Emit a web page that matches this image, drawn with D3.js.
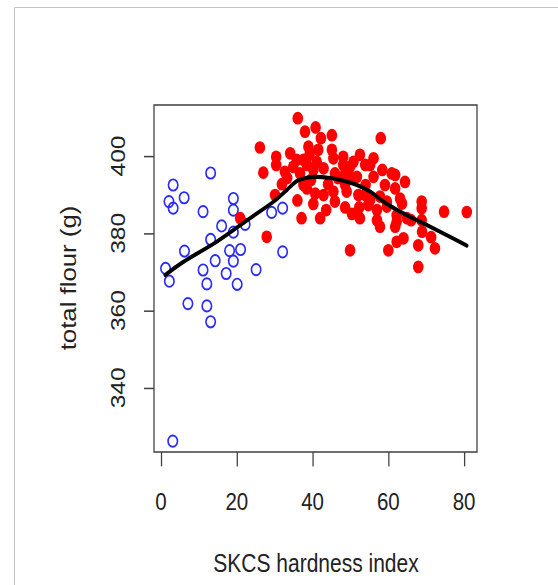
<!DOCTYPE html>
<html>
<head>
<meta charset="utf-8">
<script src="https://cdn.jsdelivr.net/npm/d3@7/dist/d3.min.js"></script>
<style>
  body { margin: 0; background: #fff; }
  text { font-family: "Liberation Sans", Arial, Helvetica, sans-serif; fill: #222; }
</style>
</head>
<body>
<svg id="chart"></svg>
<script>
const width = 558;
const height = 585;
// the source picture was stretched vertically a bit
const stretch = 1.2;

const xTicks = [0, 20, 40, 60, 80];
const yTicks = [340, 360, 380, 400];
const xLabel = "SKCS hardness index";
const yLabel = "total flour (g)";

// soft wheat (open blue circles)
const softX = [13.1, 3.2, 6.1, 2.1, 3.2, 11.1, 19.1, 19.1, 16.0, 22.2, 19.1, 13.1, 29.2, 32.1, 6.2, 18.1,
  21.0, 32.1, 14.3, 19.1, 1.2, 11.1, 17.2, 25.1, 2.2, 12.1, 20.1, 7.1, 12.1, 13.1, 3.1];
const softY = [395.6, 392.5, 389.2, 388.2, 386.5, 385.6, 389.0, 386.0, 381.9, 382.3, 380.3, 378.4, 385.4, 386.5, 375.4, 375.5,
  375.8, 375.2, 372.9, 372.8, 370.9, 370.5, 369.6, 370.6, 367.6, 366.9, 366.8, 361.8, 361.2, 357.1, 326.2];

// hard wheat (filled red dots)
const hardX = [20.9, 26.1, 27.0, 27.9, 30.1, 30.4, 30.4, 31.9, 32.7, 33.3, 34.1, 34.9, 35.8, 36.1, 36.7, 37.6,
  37.1, 37.6, 38.0, 38.9, 39.2, 38.5, 38.5, 39.6, 40.8, 41.1, 40.2, 40.7, 40.2, 42.0, 42.2, 42.9,
  42.9, 45.1, 45.1, 45.5, 45.9, 45.5, 44.1, 45.9, 48.1, 48.1, 48.6, 48.6, 48.6, 49.0, 49.9, 50.2,
  50.4, 49.9, 50.8, 51.7, 52.1, 52.5, 52.3, 52.5, 53.9, 53.9, 54.7, 55.2, 56.1, 56.1, 55.2, 57.0,
  58.0, 58.4, 57.8, 57.8, 59.1, 59.6, 59.6, 60.0, 60.9, 61.8, 61.8, 62.2, 62.2, 61.8, 62.2, 64.0,
  63.1, 63.6, 64.4, 64.9, 66.0, 67.9, 67.9, 68.8, 68.8, 68.8, 68.9, 71.3, 72.3, 74.7, 80.7,
  41.5, 43.6, 46.7, 36.0, 54.0, 57.0];
const hardY = [383.9, 402.2, 395.7, 379.1, 389.9, 399.8, 397.7, 392.7, 395.9, 394.3, 400.7, 397.2, 399.0, 409.8, 395.5, 392.5,
  383.9, 399.0, 406.3, 402.4, 400.3, 397.7, 391.6, 393.8, 407.4, 398.5, 396.4, 390.3, 387.6, 383.9, 404.6, 396.8,
  389.9, 405.4, 401.6, 399.4, 395.5, 390.8, 392.7, 388.2, 399.8, 397.7, 395.5, 392.5, 386.7, 390.8, 397.2, 394.3,
  385.0, 375.6, 398.5, 394.6, 389.9, 400.3, 386.7, 383.9, 397.7, 389.9, 387.3, 388.6, 399.4, 394.6, 397.7, 383.4,
  404.6, 396.4, 389.5, 381.7, 392.5, 388.2, 386.9, 375.6, 395.5, 395.1, 391.6, 384.7, 383.0, 381.7, 377.8, 378.7,
  389.0, 387.7, 393.3, 383.9, 383.4, 376.9, 371.3, 388.2, 386.5, 383.4, 380.4, 379.0, 376.1, 385.6, 385.5,
  401.6, 386.0, 394.3, 388.5, 392.5, 386.0];

// lowess fit
const smoothX = [1.1, 5.9, 14.7, 23.5, 29.7, 33.2, 35.8, 38.5, 41.0, 44.6, 47.3, 51.7, 55.2, 58.7, 63.1, 67.5, 71.9, 76.3, 80.7];
const smoothY = [369.2, 372.6, 377.8, 383.9, 388.2, 391.2, 393.5, 394.4, 394.6, 394.3, 393.8, 392.5, 390.8, 388.2, 385.6, 383.4, 381.3, 379.1, 376.8];

const box = {left: 154, right: 477, top: 105, bottom: 452};

const svg = d3.select("#chart")
    .attr("width", width)
    .attr("height", height);

// thin grey frame of the original screenshot
svg.append("path")
    .attr("d", `M14.5,${height} V7.5 H${width}`)
    .attr("fill", "none")
    .attr("stroke", "#c4c4c4")
    .attr("stroke-width", 1);

const g = svg.append("g")
    .attr("transform", `scale(1, ${stretch})`);

const x = d3.scaleLinear()
    .domain([-1.85, 83.4])
    .range([box.left, box.right]);

const y = d3.scaleLinear()
    .domain([323.4, 413.2])
    .range([box.bottom / stretch, box.top / stretch]);

// x axis
const xAxis = g.append("g")
    .attr("transform", `translate(0, ${box.bottom / stretch})`)
    .call(d3.axisBottom(x).tickValues(xTicks).tickSize(12).tickPadding(0).tickFormat(""));
xAxis.select(".domain").remove();
xAxis.selectAll("line").attr("stroke", "#444").attr("stroke-width", 1.3);

g.selectAll(".xlab")
    .data(xTicks)
    .join("text")
    .attr("class", "xlab")
    .attr("x", d => x(d))
    .attr("y", 510 / stretch)
    .attr("text-anchor", "middle")
    .attr("font-size", 20.5)
    .text(d => d);

// y axis
const yAxis = g.append("g")
    .attr("transform", `translate(${box.left}, 0)`)
    .call(d3.axisLeft(y).tickValues(yTicks).tickSize(10).tickFormat(""));
yAxis.select(".domain").remove();
yAxis.selectAll("line").attr("stroke", "#444").attr("stroke-width", 1.3);

g.selectAll(".ylab")
    .data(yTicks)
    .join("text")
    .attr("class", "ylab")
    .attr("transform", d => `translate(118, ${y(d)}) rotate(-90)`)
    .attr("dy", "0.36em")
    .attr("text-anchor", "middle")
    .attr("font-size", 20.5)
    .text(d => d);

// plot box
g.append("rect")
    .attr("x", box.left)
    .attr("y", box.top / stretch)
    .attr("width", box.right - box.left)
    .attr("height", (box.bottom - box.top) / stretch)
    .attr("fill", "none")
    .attr("stroke", "#444")
    .attr("stroke-width", 1.3);

// axis titles
g.append("text")
    .attr("x", 316)
    .attr("y", 572 / stretch)
    .attr("text-anchor", "middle")
    .attr("font-size", 21)
    .text(xLabel);

g.append("text")
    .attr("transform", `translate(68, ${278 / stretch}) rotate(-90)`)
    .attr("dy", "0.35em")
    .attr("text-anchor", "middle")
    .attr("font-size", 21.5)
    .text(yLabel);

// points
g.selectAll(".soft")
    .data(softX.map((d, i) => [d, softY[i]]))
    .join("circle")
    .attr("class", "soft")
    .attr("cx", d => x(d[0]))
    .attr("cy", d => y(d[1]))
    .attr("r", 4.7)
    .attr("fill", "none")
    .attr("stroke", "#2a2aff")
    .attr("stroke-width", 1.6);

g.selectAll(".hard")
    .data(hardX.map((d, i) => [d, hardY[i]]))
    .join("circle")
    .attr("class", "hard")
    .attr("cx", d => x(d[0]))
    .attr("cy", d => y(d[1]))
    .attr("r", 5.3)
    .attr("fill", "#ff0000");

// lowess line
const line = d3.line()
    .x(d => x(d[0]))
    .y(d => y(d[1]))
    .curve(d3.curveCatmullRom);

g.append("path")
    .datum(smoothX.map((d, i) => [d, smoothY[i]]))
    .attr("d", line)
    .attr("fill", "none")
    .attr("stroke", "#000")
    .attr("stroke-width", 3.4)
    .attr("stroke-linecap", "round");
</script>
</body>
</html>
